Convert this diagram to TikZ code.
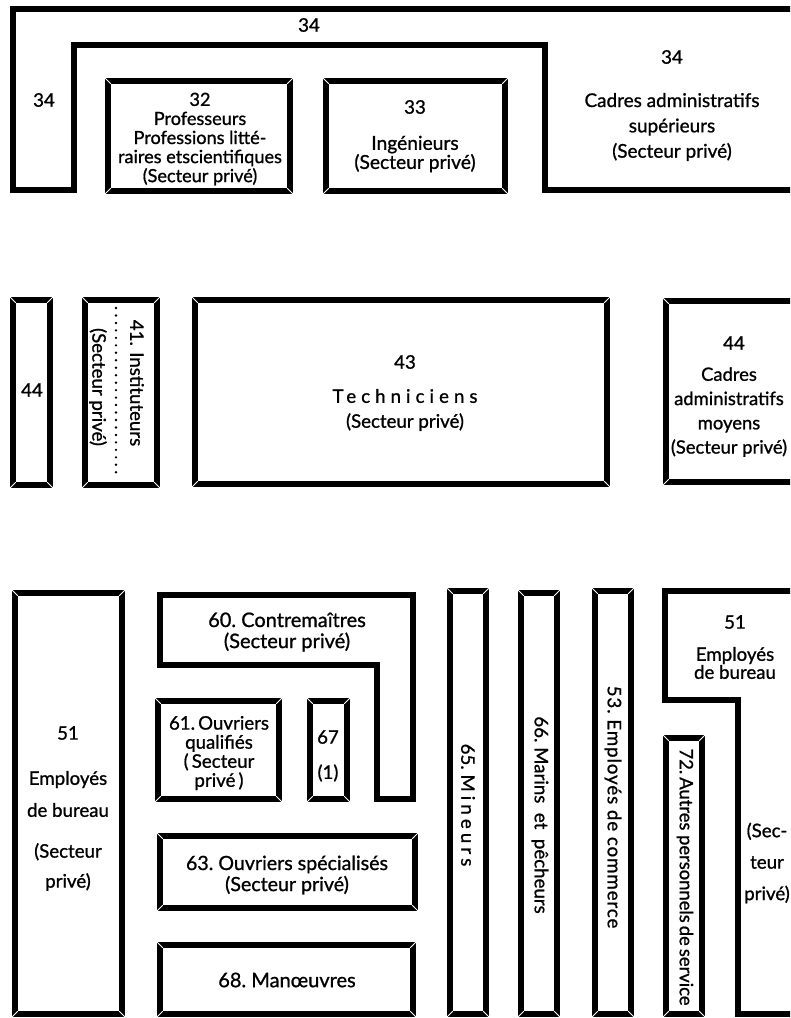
\documentclass[tikz,border=0pt]{standalone}
\usepackage{fontspec}
\setmainfont{Lato}[FakeBold=1]
\tikzset{
  frame/.style={line width=4.3pt, line join=miter},
  miter/.style={white, line width=0.7pt},
  lbl/.style={align=center, inner sep=0pt, font=\fontsize{14}{16}\selectfont},
  vlbl/.style={lbl, rotate=-90},
}
% bevelled frame: corners (x1,y1) and (x2,y2), in pixels
\newcommand\bevbox[4]{%
  \draw[frame] (#1,#2) rectangle (#3,#4);
  \draw[miter] (#1-2.8,#2-2.8) -- +(5.6,5.6) (#3+2.8,#2-2.8) -- +(-5.6,5.6)
    (#1-2.8,#4+2.8) -- +(5.6,-5.6) (#3+2.8,#4+2.8) -- +(-5.6,-5.6);}
\newcommand\spaced[2]{{\addfontfeature{LetterSpace=#1}#2}}

\begin{document}
\begin{tikzpicture}[x=0.75pt,y=-0.75pt]
  \useasboundingbox (0,0) rectangle (790,1018);
  \clip (0,0) rectangle (790,1018);

  % --- cadres superieurs
  \draw[frame] (800,9) -- (13,9) -- (13,190) -- (74,190) -- (74,45)
    -- (545,45) -- (545,190) -- (800,190);
  \node[lbl] (t34) at (309,25) {34};
  \node[lbl] (l34) at (44,100) {34};
  \node[lbl] (r34) at (672,57) {34};
  \node[lbl, font=\fontsize{14.2}{19}\selectfont] (cas) at (672,127)
    {Cadres administratifs\\supérieurs\\(Secteur privé)};
  \bevbox{108}{81}{290}{191}
  \node[lbl, font=\fontsize{13.6}{14.3}\selectfont] (p32) at (200,139)
    {32\\Professeurs\\Professions litté-\\raires etscientifiques\\(Secteur privé)};
  \bevbox{326}{81}{505}{191}
  \node[lbl] (n33) at (415,107) {33};
  \node[lbl, font=\fontsize{14.4}{14.3}\selectfont] (i33) at (415,154)
    {Ingénieurs\\(Secteur privé)};

  % --- cadres moyens
  \bevbox{13}{300}{50}{485}
  \node[lbl] (l44) at (32,390) {44};
  \bevbox{85}{300}{157}{485}
  \node[vlbl] (n41) at (137,383) {41. Instituteurs};
  \node[vlbl] (s41) at (98,387) {(Secteur privé)};
  \coordinate (d1) at (116,308);
  \coordinate (d2) at (116,477);
  \draw[line width=2pt, line cap=round, dash pattern=on 0pt off 5.6pt] (d1) -- (d2);
  \bevbox{195}{300}{607}{484}
  \node[lbl] (n43) at (405,362) {43};
  \node[lbl, font=\fontsize{14}{18.7}\selectfont] (t43) at (405,410)
    {\spaced{27}{Techniciens}\\(Secteur privé)};
  \bevbox{666}{301}{830}{482}
  \node[lbl] (r44) at (734,343) {44};
  \node[lbl, font=\fontsize{13.8}{18.2}\selectfont] (c44) at (729,412)
    {Cadres\\administratifs\\moyens\\(Secteur privé)};

  % --- employes et ouvriers
  \bevbox{15}{593}{122}{1014}
  \node[lbl] (l51) at (68,733) {51};
  \node[lbl, font=\fontsize{14}{24}\selectfont] (e51) at (68,794)
    {Employés\\de bureau};
  \node[lbl, font=\fontsize{14}{22.5}\selectfont] (s51) at (68,867)
    {(Secteur\\privé)};

  \draw[frame] (160,595) -- (413,595) -- (413,799) -- (377,799) -- (377,665)
    -- (160,665) -- cycle;
  \node[lbl, font=\fontsize{15}{15.8}\selectfont] (n60) at (287,632)
    {60.\ Contremaîtres\\(Secteur privé)};
  \bevbox{158}{701}{279}{799}
  \node[lbl, font=\fontsize{14}{14.3}\selectfont] (n61) at (219,753)
    {61.\,Ouvriers\\qualifiés\\(\,Secteur\\privé\,)};
  \bevbox{310}{701}{347}{799}
  \node[lbl] (n67) at (328,737) {67};
  \node[lbl] (f67) at (328,773) {(1)};
  \bevbox{160}{836}{415}{908}
  \node[lbl, font=\fontsize{14.7}{15.8}\selectfont] (n63) at (287,875)
    {63.\ Ouvriers spécialisés\\(Secteur privé)};
  \bevbox{160}{945}{413}{1014}
  \node[lbl, font=\fontsize{15}{16}\selectfont] (n68) at (287,980) {68.\ Manœuvres};

  \bevbox{450}{591}{486}{1014}
  \node[vlbl] (n65) at (468,805) {65.\ \spaced{22}{Mineurs}};
  \bevbox{521}{593}{557}{1014}
  \node[vlbl] (n66) at (540,815) {66.\ Marins \ et \ pêcheurs};
  \bevbox{595}{591}{631}{1014}
  \node[vlbl] (n53) at (613,807) {\spaced{5}{53.\ Employés de commerce}};
  \bevbox{666}{738}{702}{1014}
  \node[vlbl, font=\fontsize{13.8}{16}\selectfont] (n72) at (685,877)
    {72.\,Autres personnels\,de\,service};

  \draw[frame] (830,591) -- (665,591) -- (665,700) -- (738,700) -- (738,1014)
    -- (830,1014);
  \node[lbl] (r51) at (735,622) {51};
  \node[lbl, font=\fontsize{14}{13.5}\selectfont] (e51r) at (735,663)
    {Employés\\de bureau};
  \node[lbl, font=\fontsize{14}{23.6}\selectfont] (s51r) at (767,863)
    {(Sec-\\teur\\privé)};
\end{tikzpicture}
\end{document}
